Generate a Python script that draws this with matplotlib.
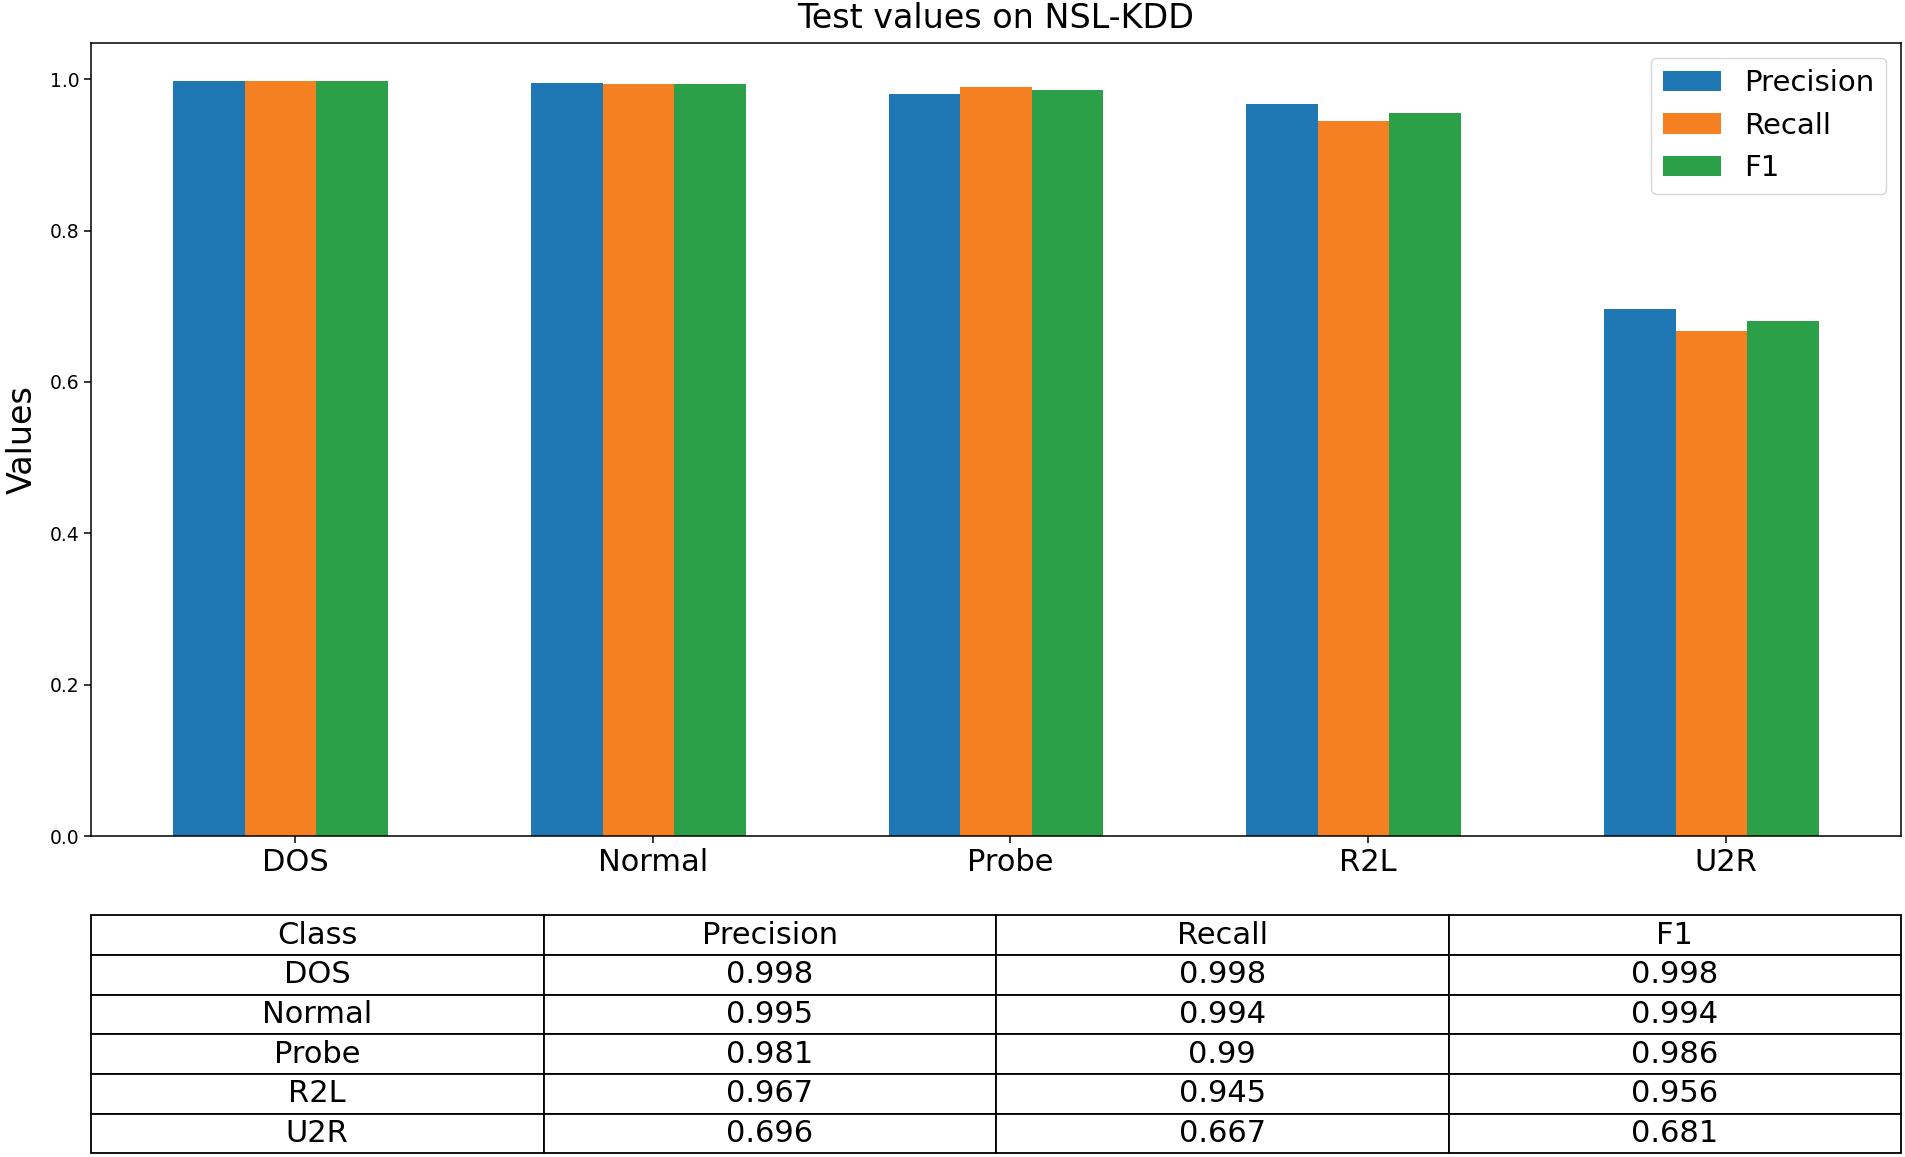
import numpy as np
import matplotlib
matplotlib.use("Agg")
import matplotlib.pyplot as plt

classes = ["DOS", "Normal", "Probe", "R2L", "U2R"]
precision = [0.998, 0.995, 0.981, 0.967, 0.696]
recall = [0.998, 0.994, 0.99, 0.945, 0.667]
f1 = [0.998, 0.994, 0.986, 0.956, 0.681]
col_labels = ["Class", "Precision", "Recall", "F1"]

fig = plt.figure(figsize=(19.05, 11.57), dpi=100)
ax = fig.add_axes([0.0478, 0.2774, 0.9501, 0.6854])

x = np.arange(len(classes))
w = 0.2
ax.bar(x - 0.24, precision, w, label="Precision", color="#1f77b4")
ax.bar(x - 0.04, recall, w, label="Recall", color="#f58021")
ax.bar(x + 0.16, f1, w, label="F1", color="#2ca048")

ax.set_xticks(x)
ax.set_xticklabels(classes, fontsize=22)
ax.tick_params(axis="y", labelsize=13.5, length=4.8, width=1.1)
ax.tick_params(axis="x", length=4.8, width=1.1)
for s in ax.spines.values():
    s.set_linewidth(1.1)

ax.set_ylabel("Values", fontsize=24, labelpad=8)
ax.set_title("Test values on NSL-KDD", fontsize=24, pad=11)
ax.legend(fontsize=21, loc="upper right")

rows = [[c, str(p), str(r), str(f)] for c, p, r, f in zip(classes, precision, recall, f1)]
tab = ax.table(cellText=rows, colLabels=col_labels, cellLoc="center",
               bbox=[0, -0.40, 1, 0.30])
tab.auto_set_font_size(False)
tab.set_fontsize(22)
for cell in tab.get_celld().values():
    cell.set_linewidth(1.3)

plt.savefig("out.png", dpi=100)
